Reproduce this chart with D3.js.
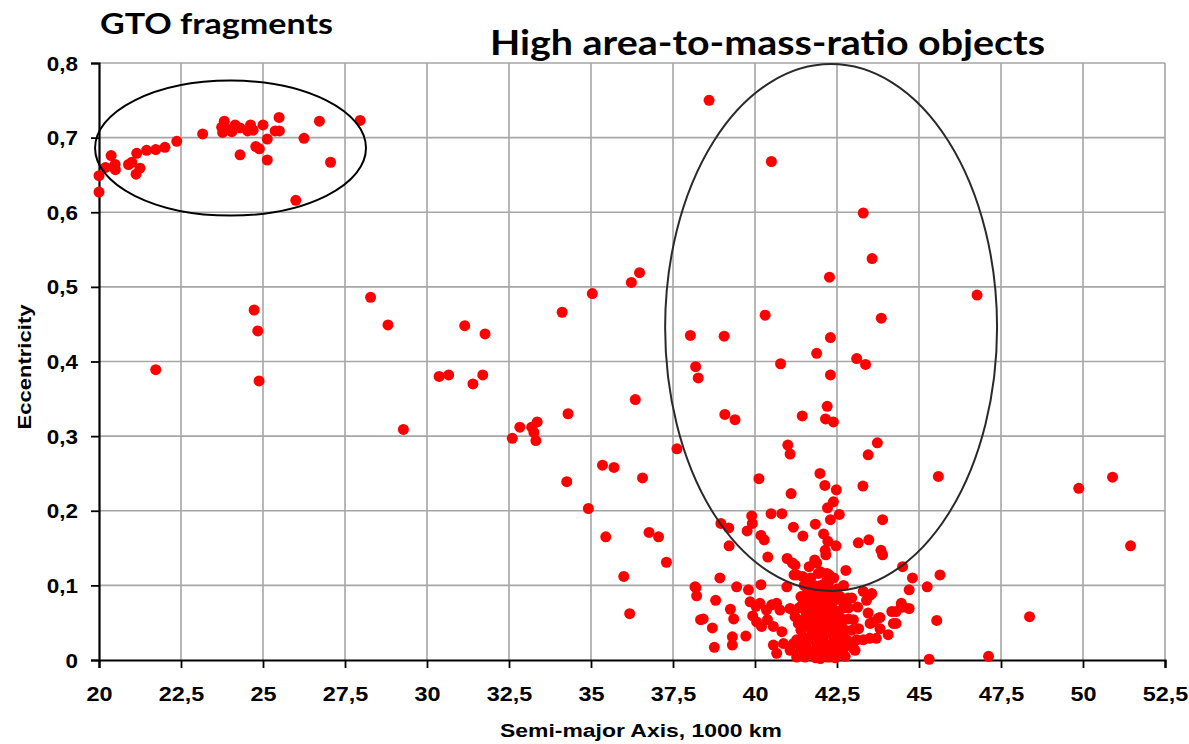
<!DOCTYPE html>
<html><head><meta charset="utf-8">
<script src="https://cdn.jsdelivr.net/npm/d3@7"></script>
<style>body{margin:0;background:#fff}svg{display:block}</style>
</head><body>
<svg id="c" width="1189" height="744"></svg>
<script>
// ---- data ----
const xTicks = [20,22.5,25,27.5,30,32.5,35,37.5,40,42.5,45,47.5,50,52.5];
const yTicks = [0,0.1,0.2,0.3,0.4,0.5,0.6,0.7,0.8];
const xTickLabels = ["20","22,5","25","27,5","30","32,5","35","37,5","40","42,5","45","47,5","50","52,5"];
const yTickLabels = ["0","0,1","0,2","0,3","0,4","0,5","0,6","0,7","0,8"];
const titles = ["GTO fragments","High area-to-mass-ratio objects"];
const xTitle = "Semi-major Axis, 1000 km";
const yTitle = "Eccentricity";
// GTO fragments cluster: [semi-major axis, eccentricity]
const gtoPoints = [[20.0,0.627],[20.0,0.649],[20.2,0.660],[20.37,0.676],[20.49,0.664],[20.5,0.657],[20.9,0.664],[21.0,0.667],[21.13,0.651],[21.25,0.659],[21.15,0.679],[21.45,0.683],[21.73,0.684],[22.01,0.687],[22.37,0.695],[23.16,0.705],[23.82,0.722],[23.74,0.714],[23.77,0.707],[23.94,0.711],[24.15,0.717],[24.3,0.713],[24.05,0.708],[24.53,0.709],[24.62,0.717],[24.7,0.710],[25.0,0.717],[24.3,0.677],[24.78,0.688],[24.89,0.685],[25.13,0.698],[25.13,0.670],[25.37,0.709],[25.5,0.709],[25.49,0.727],[26.0,0.616],[26.25,0.699],[26.72,0.722],[27.06,0.667],[27.96,0.723]];
const midPoints = [[21.73,0.389],[24.73,0.469],[24.84,0.441],[24.88,0.374],[28.28,0.486],[28.81,0.449],[29.28,0.309],[31.15,0.448],[30.37,0.380],[30.66,0.382],[31.4,0.370],[31.7,0.382],[31.77,0.437],[36.48,0.519],[36.23,0.506],[35.04,0.491],[34.12,0.466],[38.03,0.435],[38.19,0.393],[38.27,0.378],[36.35,0.349],[34.3,0.330],[32.83,0.312],[33.36,0.319],[33.19,0.312],[33.26,0.305],[33.32,0.294],[32.6,0.297],[37.62,0.283],[35.35,0.261],[35.7,0.258],[34.26,0.239],[36.57,0.244],[34.92,0.203],[35.45,0.165],[36.77,0.171],[37.06,0.165],[37.3,0.131],[36.0,0.112],[36.18,0.062],[38.2,0.097],[38.22,0.086],[38.34,0.054]];
const hamrPoints = [[38.6,0.750],[40.5,0.668],[43.3,0.599],[43.57,0.538],[42.27,0.513],[40.31,0.462],[43.85,0.458],[39.06,0.434],[42.3,0.432],[41.88,0.411],[40.78,0.397],[43.1,0.404],[43.37,0.396],[42.3,0.382],[46.77,0.489],[39.08,0.329],[39.39,0.322],[41.44,0.327],[42.2,0.340],[42.15,0.323],[42.39,0.319],[43.73,0.291],[43.45,0.275],[41.0,0.288],[41.07,0.276],[40.12,0.243],[41.98,0.250],[42.13,0.234],[42.48,0.228],[43.29,0.233],[41.1,0.223],[42.39,0.212],[42.21,0.204],[42.57,0.195],[42.3,0.188],[43.89,0.188],[39.9,0.193],[40.49,0.196],[40.82,0.196],[39.92,0.183],[39.76,0.173],[38.96,0.183],[39.2,0.177],[39.21,0.153],[41.17,0.178],[41.84,0.182],[41.46,0.166],[42.09,0.169],[40.18,0.167],[40.28,0.161],[42.22,0.159],[42.47,0.153],[43.15,0.157],[43.47,0.161],[43.84,0.147],[43.89,0.141],[42.14,0.147],[42.16,0.141],[40.39,0.138],[40.98,0.136],[41.82,0.134]];
const outerPoints = [[45.59,0.246],[44.5,0.125],[44.8,0.110],[45.64,0.114],[44.7,0.094],[45.25,0.098],[44.46,0.071],[44.52,0.071],[44.7,0.069],[44.17,0.065],[43.81,0.057],[44.22,0.049],[43.81,0.042],[44.06,0.034],[45.54,0.053],[45.31,0.001],[47.12,0.005],[48.37,0.058],[49.87,0.230],[50.9,0.245],[51.45,0.153]];
const geoPoints = [[41.22,0.127],[41.65,0.125],[41.88,0.130],[42.77,0.120],[38.93,0.110],[38.17,0.098],[38.8,0.080],[39.44,0.098],[39.8,0.094],[40.18,0.101],[39.25,0.068],[39.35,0.055],[38.42,0.055],[38.7,0.043],[38.76,0.017],[39.31,0.031],[39.31,0.020],[39.72,0.032],[39.85,0.078],[40.03,0.072],[40.15,0.076],[39.93,0.059],[40.38,0.054],[40.51,0.074],[40.76,0.067],[41.07,0.069],[40.2,0.045],[40.56,0.020],[40.82,0.038],[40.87,0.022],[41.07,0.013],[41.27,0.027],[41.32,0.049],[41.22,0.058],[41.58,0.078],[41.63,0.065],[41.78,0.054],[41.73,0.040],[41.63,0.027],[41.73,0.011],[41.99,0.002],[42.2,0.004],[41.88,0.018],[42.08,0.027],[42.29,0.040],[42.19,0.054],[41.99,0.067],[42.19,0.076],[42.04,0.089],[42.29,0.087],[41.58,0.089],[41.78,0.080],[42.39,0.067],[42.49,0.054],[42.59,0.036],[42.44,0.022],[42.34,0.011],[42.9,0.022],[43.05,0.013],[43.1,0.027],[42.95,0.040],[43.0,0.054],[43.16,0.042],[42.95,0.083],[43.13,0.071],[43.45,0.063],[43.5,0.029],[43.7,0.029],[43.6,0.051],[44.3,0.049],[44.3,0.065],[44.46,0.076],[43.3,0.092],[43.56,0.089],[43.4,0.080],[41.27,0.114],[41.93,0.116],[42.19,0.116],[40.97,0.098],[40.35,0.067],[40.05,0.051],[41.52,0.004],[41.37,0.011],[41.14,0.130],[42.0,0.118],[42.26,0.114],[41.19,0.114],[41.45,0.112],[42.19,0.107],[42.84,0.083],[43.3,0.027],[43.51,0.049],[43.76,0.056],[43.51,0.087],[40.66,0.076],[40.56,0.045],[41.17,0.022],[41.27,0.004],[42.08,0.094],[42.34,0.076],[42.49,0.058],[42.64,0.045],[42.8,0.027],[43.0,0.016],[42.29,0.004],[41.68,0.009],[41.48,0.031],[41.78,0.045],[42.08,0.031],[42.39,0.018],[42.49,0.040],[42.08,0.054],[41.93,0.022],[42.24,0.067],[40.66,0.009],[41.5,0.055],[41.9,0.035],[42.6,0.010],[42.7,0.070],[41.4,0.085],[42.5,0.095],[41.8,0.100],[42.4,0.030],[42.0,0.075],[41.6,0.045],[42.2,0.020],[41.9,0.060],[42.7,0.100],[41.5,0.100],[42.6,0.085],[41.35,0.070],[42.85,0.055],[41.95,0.045],[42.15,0.010],[41.85,0.003],[42.45,0.003],[42.7,0.015],[41.45,0.075],[41.55,0.065],[41.65,0.050],[41.7,0.085],[41.75,0.070],[41.85,0.090],[41.85,0.025],[41.95,0.080],[41.95,0.012],[42.05,0.040],[42.1,0.065],[42.1,0.085],[42.15,0.045],[42.25,0.095],[42.3,0.060],[42.35,0.050],[42.4,0.080],[42.45,0.045],[42.55,0.065],[42.55,0.025],[42.65,0.080],[42.65,0.055],[42.75,0.040],[42.85,0.070],[41.55,0.020],[41.6,0.008],[41.75,0.030],[42.0,0.020],[42.05,0.005],[42.35,0.035],[42.5,0.012],[42.75,0.005],[41.4,0.040],[41.45,0.018],[42.0,0.100],[42.25,0.105],[41.7,0.110],[42.4,0.110]];
// annotation ellipses: [cx, cy, rx, ry] in data units
const gtoEllipse = [24.01, 0.686, 4.13, 0.0905];
const hamrEllipse = [42.32, 0.4456, 5.06, 0.353];

// ---- chart ----
const svg = d3.select("#c");
const x = d3.scaleLinear().domain([20,52.5]).range([99,1165]);
const y = d3.scaleLinear().domain([0,0.8]).range([660,63]);

function fitText(sel, w){ sel.attr("textLength", w).attr("lengthAdjust","spacingAndGlyphs"); }

// gridlines
svg.append("g").selectAll("line.v").data(xTicks.slice(1)).join("line")
  .attr("x1",d=>x(d)).attr("x2",d=>x(d)).attr("y1",y(0.8)).attr("y2",y(0))
  .attr("stroke","#a6a6a6").attr("stroke-width",1.6);
svg.append("g").selectAll("line.h").data(yTicks.slice(1)).join("line")
  .attr("x1",x(20)).attr("x2",x(52.5)).attr("y1",d=>y(d)).attr("y2",d=>y(d))
  .attr("stroke","#a6a6a6").attr("stroke-width",1.6);

// axes
const xAxis = d3.axisBottom(x).tickValues(xTicks).tickSize(8).tickFormat((d,i)=>xTickLabels[i]);
const yAxis = d3.axisLeft(y).tickValues(yTicks).tickSize(8).tickFormat((d,i)=>yTickLabels[i]);
const gx = svg.append("g").attr("transform","translate(0,660)").call(xAxis);
const gy = svg.append("g").attr("transform","translate(99,0)").call(yAxis);
[gx,gy].forEach(g=>{
  g.select(".domain").attr("stroke","#000").attr("stroke-width",2.2);
  g.selectAll(".tick line").attr("stroke","#000").attr("stroke-width",1.8);
  g.selectAll(".tick text").attr("fill","#000")
    .attr("font-family","'Liberation Sans', Arial, sans-serif")
    .attr("font-weight","bold").attr("font-size",19.5);
});
gx.selectAll(".tick text").attr("dy",0).attr("y",41)
  .each(function(){ const w=this.getComputedTextLength(); d3.select(this).call(fitText, w*1.2); });
gy.selectAll(".tick text").attr("x",-21).attr("dy","0.36em")
  .each(function(){ const w=this.getComputedTextLength(); d3.select(this).call(fitText, w*1.15); });

// points
const allPts = [].concat(gtoPoints, midPoints, hamrPoints, outerPoints, geoPoints);
svg.append("g").selectAll("circle").data(allPts).join("circle")
  .attr("cx",d=>x(d[0])).attr("cy",d=>y(d[1])).attr("r",5.5).attr("fill","#ff0000");

// ellipses
function ell(e, color){
  svg.append("ellipse").attr("cx",x(e[0])).attr("cy",y(e[1]))
    .attr("rx",x(e[0]+e[2])-x(e[0])).attr("ry",y(0)-y(e[3]))
    .attr("fill","none").attr("stroke",color).attr("stroke-width",2);
}
ell(gtoEllipse,"#000");
ell(hamrEllipse,"#2a2a2a");

// titles
svg.append("text").attr("x",100).attr("y",34).text(titles[0])
  .attr("font-family","Lato, 'Open Sans', sans-serif").attr("font-weight","bold").attr("font-size",29)
  .call(fitText, 233);
svg.append("text").attr("x",490).attr("y",55).text(titles[1])
  .attr("font-family","Lato, 'Open Sans', sans-serif").attr("font-weight","bold").attr("font-size",35)
  .call(fitText, 555);

// axis titles
svg.append("text").attr("x",641).attr("y",737).attr("text-anchor","middle").text(xTitle)
  .attr("font-family","'Liberation Sans', Arial, sans-serif").attr("font-weight","bold").attr("font-size",18)
  .call(fitText, 282);
svg.append("text").attr("transform","translate(31,367) rotate(-90)").attr("text-anchor","middle").text(yTitle)
  .attr("font-family","'Liberation Sans', Arial, sans-serif").attr("font-weight","bold").attr("font-size",18)
  .call(fitText, 125);
</script>
</body></html>
